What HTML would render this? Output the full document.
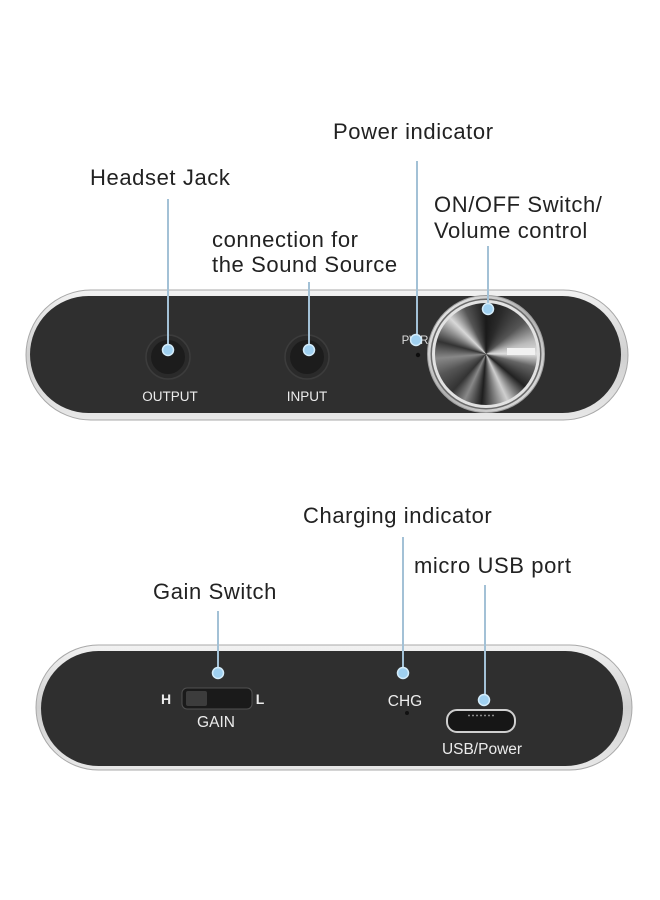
<!DOCTYPE html>
<html>
<head>
<meta charset="utf-8">
<style>
  html,body{margin:0;padding:0;background:#fff;}
  #wrap{position:relative;width:660px;height:900px;overflow:hidden;background:#fff;}
  svg{position:absolute;left:0;top:0;}
  .knob{position:absolute;left:435px;top:303px;width:102px;height:102px;border-radius:50%;
    background:conic-gradient(from 0deg,#1a1a1a 0deg,#2a2a2a 20deg,#555 50deg,#bbb 75deg,#e0e0e0 90deg,#666 105deg,#222 130deg,#cfcfcf 155deg,#777 170deg,#1e1e1e 185deg,#888 205deg,#333 222deg,#555 245deg,#888 265deg,#333 285deg,#d8d8d8 315deg,#555 335deg,#1a1a1a 360deg);}
</style>
</head>
<body>
<div id="wrap">
<svg width="660" height="900" viewBox="0 0 660 900">
  <defs>
    <linearGradient id="shell" x1="0" y1="0" x2="0" y2="1">
      <stop offset="0" stop-color="#f2f2f2"/>
      <stop offset="0.5" stop-color="#d0d0d0"/>
      <stop offset="1" stop-color="#e8e8e8"/>
    </linearGradient>
    <linearGradient id="ring" x1="0" y1="0" x2="1" y2="1">
      <stop offset="0" stop-color="#f4f4f4"/>
      <stop offset="0.5" stop-color="#b0b0b0"/>
      <stop offset="1" stop-color="#e8e8e8"/>
    </linearGradient>
  </defs>

  <!-- TOP DEVICE -->
  <rect x="26" y="290" width="602" height="130" rx="65" fill="url(#shell)" stroke="#a8a8a8" stroke-width="1"/>
  <rect x="30" y="296" width="591" height="117" rx="58.5" fill="#2f2f2f"/>
  <!-- jacks -->
  <circle cx="168" cy="357" r="22" fill="#2a2a2a" stroke="#3c3c3c" stroke-width="1.5"/>
  <circle cx="168" cy="357" r="17" fill="#1c1c1c"/>
  <circle cx="307" cy="357" r="22" fill="#2a2a2a" stroke="#3c3c3c" stroke-width="1.5"/>
  <circle cx="307" cy="357" r="17" fill="#1c1c1c"/>
  <text x="170" y="401" font-family="Liberation Sans, sans-serif" font-size="13.5" fill="#ececec" text-anchor="middle">OUTPUT</text>
  <text x="307" y="401" font-family="Liberation Sans, sans-serif" font-size="13.5" fill="#ececec" text-anchor="middle">INPUT</text>
  <text x="415" y="344" font-family="Liberation Sans, sans-serif" font-size="11.5" fill="#dcdcdc" text-anchor="middle">PWR</text>
  <circle cx="418" cy="355" r="2.2" fill="#0e0e0e"/>
  <!-- knob ring -->
  <circle cx="486" cy="354" r="58.5" fill="url(#ring)" stroke="#9c9c9c" stroke-width="1"/>
  <circle cx="486" cy="354" r="55.5" fill="#6a6a6a"/>
  <circle cx="486" cy="354" r="54" fill="#e2e2e2"/>

  <!-- BOTTOM DEVICE -->
  <rect x="36" y="645" width="596" height="125" rx="62.5" fill="url(#shell)" stroke="#a8a8a8" stroke-width="1"/>
  <rect x="41" y="651" width="582" height="115" rx="57.5" fill="#2f2f2f"/>
  <!-- gain switch -->
  <rect x="182" y="688" width="70" height="21" rx="5" fill="#1a1a1a" stroke="#505050" stroke-width="1"/>
  <rect x="186" y="691" width="21" height="15" rx="2" fill="#3c3c3c"/>
  <text x="166" y="704" font-family="Liberation Sans, sans-serif" font-size="14" font-weight="bold" fill="#ececec" text-anchor="middle">H</text>
  <text x="260" y="704" font-family="Liberation Sans, sans-serif" font-size="14" font-weight="bold" fill="#ececec" text-anchor="middle">L</text>
  <text x="216" y="727" font-family="Liberation Sans, sans-serif" font-size="15.5" fill="#ececec" text-anchor="middle">GAIN</text>
  <!-- CHG -->
  <text x="405" y="706" font-family="Liberation Sans, sans-serif" font-size="15.5" fill="#ececec" text-anchor="middle">CHG</text>
  <circle cx="407" cy="713" r="2" fill="#111"/>
  <!-- USB -->
  <rect x="447" y="710" width="68" height="22" rx="10" fill="#161616" stroke="#cfcfcf" stroke-width="2"/>
  <line x1="468" y1="715.5" x2="496" y2="715.5" stroke="#8a8a8a" stroke-width="1.5" stroke-dasharray="2 2"/>
  <text x="482" y="754" font-family="Liberation Sans, sans-serif" font-size="15.5" fill="#ececec" text-anchor="middle">USB/Power</text>

  <!-- LABELS -->
  <g font-family="Liberation Sans, sans-serif" font-size="22" fill="#222" letter-spacing="0.6">
    <text x="333" y="139">Power indicator</text>
    <text x="90" y="185">Headset Jack</text>
    <text x="212" y="247">connection for</text>
    <text x="212" y="272">the Sound Source</text>
    <text x="434" y="212">ON/OFF Switch/</text>
    <text x="434" y="238">Volume control</text>
    <text x="303" y="523">Charging indicator</text>
    <text x="414" y="573">micro USB port</text>
    <text x="153" y="599">Gain Switch</text>
  </g>
</svg>

<div class="knob"></div>

<svg width="660" height="900" viewBox="0 0 660 900">
  <!-- knob slot -->
  <rect x="507" y="348" width="28" height="7" fill="#f2f2f2"/>
  <!-- connector lines -->
  <g stroke="#a3c1d6" stroke-width="2" fill="none">
    <line x1="168" y1="199" x2="168" y2="350"/>
    <line x1="309" y1="282" x2="309" y2="350"/>
    <line x1="417" y1="161" x2="417" y2="340"/>
    <line x1="488" y1="246" x2="488" y2="309"/>
    <line x1="218" y1="611" x2="218" y2="673"/>
    <line x1="403" y1="537" x2="403" y2="673"/>
    <line x1="485" y1="585" x2="485" y2="700"/>
  </g>
  <!-- dots -->
  <g fill="#9fd0f0" stroke="#d4ecfa" stroke-width="1.5">
    <circle cx="168" cy="350" r="5.5"/>
    <circle cx="309" cy="350" r="5.5"/>
    <circle cx="416" cy="340" r="5.5"/>
    <circle cx="488" cy="309" r="5.5"/>
    <circle cx="218" cy="673" r="5.5"/>
    <circle cx="403" cy="673" r="5.5"/>
    <circle cx="484" cy="700" r="5.5"/>
  </g>
</svg>
</div>
</body>
</html>
